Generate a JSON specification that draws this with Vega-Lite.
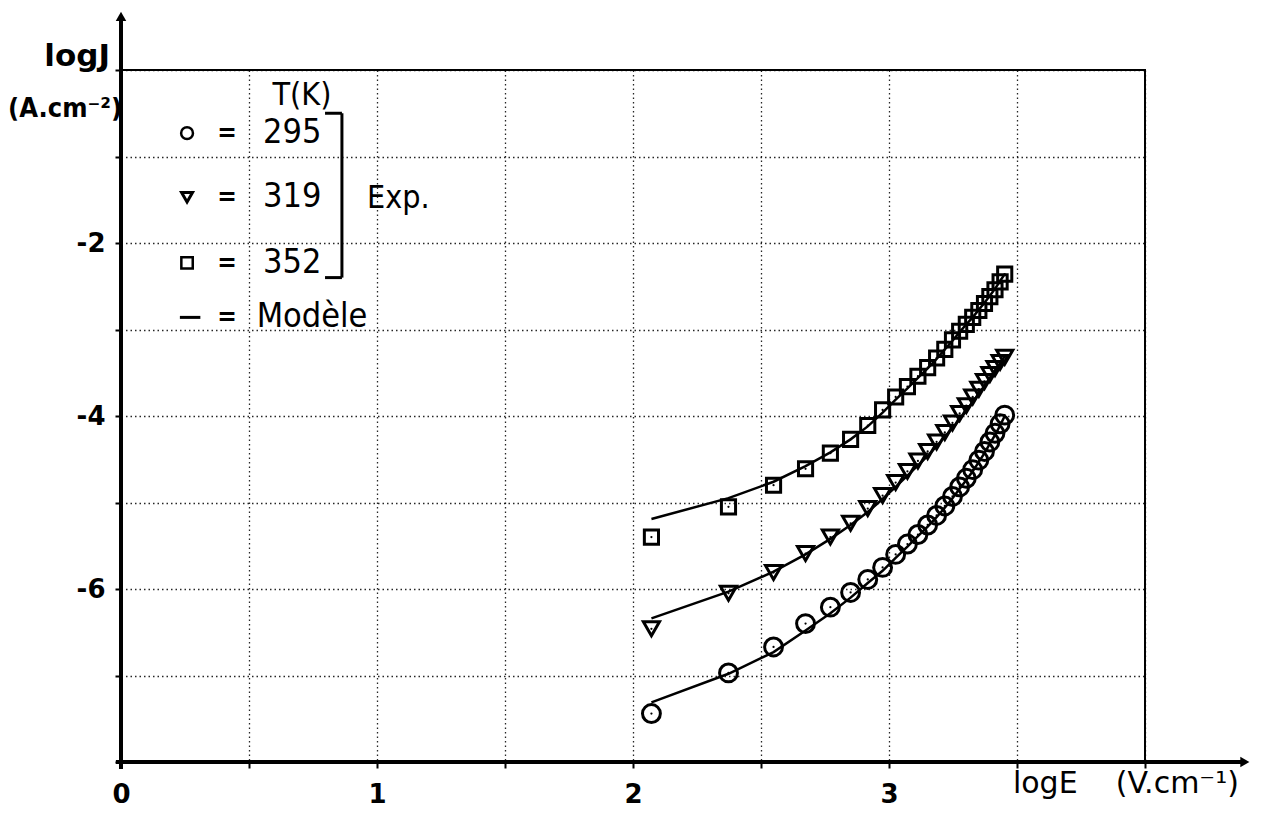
{
  "$schema": "https://vega.github.io/schema/vega-lite/v6.json",
  "width": 1024,
  "height": 692,
  "autosize": {"type": "none"},
  "padding": {"left": 121, "top": 70, "right": 116, "bottom": 53},
  "background": "white",
  "config": {"view": {"stroke": "black", "strokeWidth": 2}, "font": "DejaVu Sans"},
  "datasets": {
    "exp": [
      {"T": "295", "logE": 2.072, "logJ": -7.44}, {"T": "295", "logE": 2.373, "logJ": -6.97}, {"T": "295", "logE": 2.549, "logJ": -6.67}, {"T": "295", "logE": 2.674, "logJ": -6.40},
      {"T": "295", "logE": 2.771, "logJ": -6.21}, {"T": "295", "logE": 2.850, "logJ": -6.04}, {"T": "295", "logE": 2.917, "logJ": -5.89}, {"T": "295", "logE": 2.975, "logJ": -5.75},
      {"T": "295", "logE": 3.026, "logJ": -5.60}, {"T": "295", "logE": 3.072, "logJ": -5.48}, {"T": "295", "logE": 3.113, "logJ": -5.37}, {"T": "295", "logE": 3.151, "logJ": -5.26},
      {"T": "295", "logE": 3.186, "logJ": -5.15}, {"T": "295", "logE": 3.218, "logJ": -5.04}, {"T": "295", "logE": 3.248, "logJ": -4.93}, {"T": "295", "logE": 3.276, "logJ": -4.82},
      {"T": "295", "logE": 3.302, "logJ": -4.72}, {"T": "295", "logE": 3.327, "logJ": -4.62}, {"T": "295", "logE": 3.351, "logJ": -4.51}, {"T": "295", "logE": 3.373, "logJ": -4.41},
      {"T": "295", "logE": 3.394, "logJ": -4.30}, {"T": "295", "logE": 3.414, "logJ": -4.20}, {"T": "295", "logE": 3.434, "logJ": -4.09}, {"T": "295", "logE": 3.452, "logJ": -3.99},
      {"T": "319", "logE": 2.072, "logJ": -6.46}, {"T": "319", "logE": 2.373, "logJ": -6.05}, {"T": "319", "logE": 2.549, "logJ": -5.81}, {"T": "319", "logE": 2.674, "logJ": -5.59},
      {"T": "319", "logE": 2.771, "logJ": -5.40}, {"T": "319", "logE": 2.850, "logJ": -5.24}, {"T": "319", "logE": 2.917, "logJ": -5.07}, {"T": "319", "logE": 2.975, "logJ": -4.92},
      {"T": "319", "logE": 3.026, "logJ": -4.77}, {"T": "319", "logE": 3.072, "logJ": -4.64}, {"T": "319", "logE": 3.113, "logJ": -4.52}, {"T": "319", "logE": 3.151, "logJ": -4.41},
      {"T": "319", "logE": 3.186, "logJ": -4.30}, {"T": "319", "logE": 3.218, "logJ": -4.19}, {"T": "319", "logE": 3.248, "logJ": -4.08}, {"T": "319", "logE": 3.276, "logJ": -3.97},
      {"T": "319", "logE": 3.302, "logJ": -3.88}, {"T": "319", "logE": 3.327, "logJ": -3.78}, {"T": "319", "logE": 3.351, "logJ": -3.69}, {"T": "319", "logE": 3.373, "logJ": -3.60},
      {"T": "319", "logE": 3.394, "logJ": -3.52}, {"T": "319", "logE": 3.414, "logJ": -3.45}, {"T": "319", "logE": 3.434, "logJ": -3.38}, {"T": "319", "logE": 3.452, "logJ": -3.32},
      {"T": "352", "logE": 2.072, "logJ": -5.40}, {"T": "352", "logE": 2.373, "logJ": -5.05}, {"T": "352", "logE": 2.549, "logJ": -4.80}, {"T": "352", "logE": 2.674, "logJ": -4.61},
      {"T": "352", "logE": 2.771, "logJ": -4.43}, {"T": "352", "logE": 2.850, "logJ": -4.27}, {"T": "352", "logE": 2.917, "logJ": -4.11}, {"T": "352", "logE": 2.975, "logJ": -3.93},
      {"T": "352", "logE": 3.026, "logJ": -3.78}, {"T": "352", "logE": 3.072, "logJ": -3.66}, {"T": "352", "logE": 3.113, "logJ": -3.54}, {"T": "352", "logE": 3.151, "logJ": -3.44},
      {"T": "352", "logE": 3.186, "logJ": -3.33}, {"T": "352", "logE": 3.218, "logJ": -3.23}, {"T": "352", "logE": 3.248, "logJ": -3.12}, {"T": "352", "logE": 3.276, "logJ": -3.02},
      {"T": "352", "logE": 3.302, "logJ": -2.94}, {"T": "352", "logE": 3.327, "logJ": -2.86}, {"T": "352", "logE": 3.351, "logJ": -2.78}, {"T": "352", "logE": 3.373, "logJ": -2.70},
      {"T": "352", "logE": 3.394, "logJ": -2.62}, {"T": "352", "logE": 3.414, "logJ": -2.54}, {"T": "352", "logE": 3.434, "logJ": -2.45}, {"T": "352", "logE": 3.452, "logJ": -2.36}
    ],
    "model": [
      {"T": "295", "logE": 2.072, "logJ": -7.31}, {"T": "295", "logE": 2.373, "logJ": -6.98}, {"T": "295", "logE": 2.549, "logJ": -6.73}, {"T": "295", "logE": 2.674, "logJ": -6.48},
      {"T": "295", "logE": 2.771, "logJ": -6.28}, {"T": "295", "logE": 2.850, "logJ": -6.10}, {"T": "295", "logE": 2.917, "logJ": -5.93}, {"T": "295", "logE": 2.975, "logJ": -5.79},
      {"T": "295", "logE": 3.026, "logJ": -5.64}, {"T": "295", "logE": 3.072, "logJ": -5.51}, {"T": "295", "logE": 3.113, "logJ": -5.39}, {"T": "295", "logE": 3.151, "logJ": -5.28},
      {"T": "295", "logE": 3.186, "logJ": -5.17}, {"T": "295", "logE": 3.218, "logJ": -5.06}, {"T": "295", "logE": 3.248, "logJ": -4.95}, {"T": "295", "logE": 3.276, "logJ": -4.84},
      {"T": "295", "logE": 3.302, "logJ": -4.74}, {"T": "295", "logE": 3.327, "logJ": -4.64}, {"T": "295", "logE": 3.351, "logJ": -4.53}, {"T": "295", "logE": 3.373, "logJ": -4.43},
      {"T": "295", "logE": 3.394, "logJ": -4.32}, {"T": "295", "logE": 3.414, "logJ": -4.22}, {"T": "295", "logE": 3.434, "logJ": -4.11}, {"T": "295", "logE": 3.452, "logJ": -4.00},
      {"T": "319", "logE": 2.072, "logJ": -6.34}, {"T": "319", "logE": 2.373, "logJ": -6.03}, {"T": "319", "logE": 2.549, "logJ": -5.80}, {"T": "319", "logE": 2.674, "logJ": -5.60},
      {"T": "319", "logE": 2.771, "logJ": -5.42}, {"T": "319", "logE": 2.850, "logJ": -5.26}, {"T": "319", "logE": 2.917, "logJ": -5.11}, {"T": "319", "logE": 2.975, "logJ": -4.96},
      {"T": "319", "logE": 3.026, "logJ": -4.82}, {"T": "319", "logE": 3.072, "logJ": -4.69}, {"T": "319", "logE": 3.113, "logJ": -4.57}, {"T": "319", "logE": 3.151, "logJ": -4.46},
      {"T": "319", "logE": 3.186, "logJ": -4.35}, {"T": "319", "logE": 3.218, "logJ": -4.24}, {"T": "319", "logE": 3.248, "logJ": -4.14}, {"T": "319", "logE": 3.276, "logJ": -4.04},
      {"T": "319", "logE": 3.302, "logJ": -3.94}, {"T": "319", "logE": 3.327, "logJ": -3.84}, {"T": "319", "logE": 3.351, "logJ": -3.74}, {"T": "319", "logE": 3.373, "logJ": -3.65},
      {"T": "319", "logE": 3.394, "logJ": -3.56}, {"T": "319", "logE": 3.414, "logJ": -3.47}, {"T": "319", "logE": 3.434, "logJ": -3.39}, {"T": "319", "logE": 3.452, "logJ": -3.31},
      {"T": "352", "logE": 2.072, "logJ": -5.19}, {"T": "352", "logE": 2.373, "logJ": -4.95}, {"T": "352", "logE": 2.549, "logJ": -4.76}, {"T": "352", "logE": 2.674, "logJ": -4.58},
      {"T": "352", "logE": 2.771, "logJ": -4.42}, {"T": "352", "logE": 2.850, "logJ": -4.27}, {"T": "352", "logE": 2.917, "logJ": -4.12}, {"T": "352", "logE": 2.975, "logJ": -3.96},
      {"T": "352", "logE": 3.026, "logJ": -3.81}, {"T": "352", "logE": 3.072, "logJ": -3.68}, {"T": "352", "logE": 3.113, "logJ": -3.56}, {"T": "352", "logE": 3.151, "logJ": -3.45},
      {"T": "352", "logE": 3.186, "logJ": -3.34}, {"T": "352", "logE": 3.218, "logJ": -3.23}, {"T": "352", "logE": 3.248, "logJ": -3.13}, {"T": "352", "logE": 3.276, "logJ": -3.03},
      {"T": "352", "logE": 3.302, "logJ": -2.94}, {"T": "352", "logE": 3.327, "logJ": -2.86}, {"T": "352", "logE": 3.351, "logJ": -2.77}, {"T": "352", "logE": 3.373, "logJ": -2.69},
      {"T": "352", "logE": 3.394, "logJ": -2.61}, {"T": "352", "logE": 3.414, "logJ": -2.53}, {"T": "352", "logE": 3.434, "logJ": -2.44}, {"T": "352", "logE": 3.452, "logJ": -2.36}
    ]
  },
  "layer": [
    {
      "data": {"name": "model"},
      "mark": {"type": "line", "color": "black", "strokeWidth": 2.5},
      "encoding": {
        "x": {
          "field": "logE", "type": "quantitative",
          "scale": {"domain": [0, 4], "nice": false, "zero": false},
          "axis": {
            "values": [0, 0.5, 1, 1.5, 2, 2.5, 3, 3.5, 4],
            "labelExpr": "datum.value == 0 || datum.value == 1 || datum.value == 2 || datum.value == 3 ? '' + datum.value : ''",
            "grid": true, "gridColor": "black", "gridDash": [1.5, 3], "gridWidth": 1.3, "gridOpacity": 0.85,
            "domain": false, "ticks": true, "tickColor": "black", "tickSize": 6, "tickWidth": 2,
            "labelFont": "DejaVu Sans", "labelFontWeight": "bold", "labelFontSize": 26, "labelColor": "black",
            "labelPadding": 13, "labelFlush": false, "title": null
          }
        },
        "y": {
          "field": "logJ", "type": "quantitative",
          "scale": {"domain": [-8, 0], "nice": false, "zero": false},
          "axis": {
            "values": [-8, -7, -6, -5, -4, -3, -2, -1, 0],
            "labelExpr": "datum.value == -2 || datum.value == -4 || datum.value == -6 ? '-' + abs(datum.value) : ''",
            "grid": true, "gridColor": "black", "gridDash": [1.5, 3], "gridWidth": 1.3, "gridOpacity": 0.85,
            "domain": false, "ticks": true, "tickColor": "black", "tickSize": 6, "tickWidth": 2,
            "labelFont": "DejaVu Sans", "labelFontWeight": "bold", "labelFontSize": 26, "labelColor": "black",
            "labelPadding": 10, "labelFlush": false, "title": null
          }
        },
        "detail": {"field": "T"}
      }
    },
    {
      "data": {"name": "exp"},
      "mark": {"type": "point", "filled": false, "color": "black", "strokeWidth": 3, "opacity": 1},
      "encoding": {
        "x": {"field": "logE", "type": "quantitative"},
        "y": {"field": "logJ", "type": "quantitative"},
        "shape": {"field": "T", "type": "nominal", "scale": {"domain": ["295", "319", "352"], "range": ["circle", "triangle-down", "square"]}, "legend": null},
        "size": {"field": "T", "type": "nominal", "scale": {"domain": ["295", "319", "352"], "range": [320, 200, 300]}, "legend": null}
      }
    },
    {
      "data": {"name": "exp"},
      "mark": {"type": "point", "filled": true, "color": "black", "size": 5, "opacity": 1},
      "encoding": {
        "x": {"field": "logE", "type": "quantitative"},
        "y": {"field": "logJ", "type": "quantitative"}
      }
    },
    {
      "data": {"values": [{}]},
      "layer": [
        {
          "mark": {"type": "rule", "color": "black", "strokeWidth": 4},
          "encoding": {"x": {"datum": 0}, "y": {"datum": -8.08}, "y2": {"datum": 0.6}}
        },
        {
          "mark": {"type": "rule", "color": "black", "strokeWidth": 4},
          "encoding": {"x": {"datum": -0.02}, "x2": {"datum": 4.38}, "y": {"datum": -8}}
        },
        {
          "mark": {"type": "point", "shape": "triangle-up", "filled": true, "color": "black", "size": 110, "opacity": 1},
          "encoding": {"x": {"datum": 0}, "y": {"datum": 0.62}}
        },
        {
          "mark": {"type": "point", "shape": "triangle-right", "filled": true, "color": "black", "size": 110, "opacity": 1},
          "encoding": {"x": {"datum": 4.39}, "y": {"datum": -8}}
        },
        {
          "mark": {"type": "text", "text": "logJ", "font": "DejaVu Sans", "fontWeight": "bold", "fontSize": 31, "align": "right", "baseline": "alphabetic", "color": "black"},
          "encoding": {"x": {"datum": -0.043}, "y": {"datum": 0.05}}
        },
        {
          "mark": {"type": "text", "text": "(A.cm⁻²)", "font": "DejaVu Sans Condensed", "fontWeight": "bold", "fontSize": 27, "align": "right", "baseline": "alphabetic", "color": "black"},
          "encoding": {"x": {"datum": 0.004}, "y": {"datum": -0.54}}
        },
        {
          "mark": {"type": "text", "text": "logE\u00a0\u00a0\u00a0\u00a0(V.cm⁻¹)", "font": "DejaVu Sans", "fontSize": 30, "align": "left", "baseline": "alphabetic", "color": "black"},
          "encoding": {"x": {"datum": 3.484}, "y": {"datum": -8.36}}
        },
        {
          "mark": {"type": "text", "text": "T(K)", "font": "DejaVu Sans Condensed", "fontSize": 32, "align": "center", "baseline": "middle", "color": "black"},
          "encoding": {"x": {"datum": 0.707}, "y": {"datum": -0.29}}
        },
        {
          "mark": {"type": "point", "shape": "circle", "filled": false, "color": "black", "strokeWidth": 2.5, "size": 140, "opacity": 1},
          "encoding": {"x": {"datum": 0.258}, "y": {"datum": -0.73}}
        },
        {
          "mark": {"type": "point", "shape": "triangle-down", "filled": false, "color": "black", "strokeWidth": 3, "size": 120, "opacity": 1},
          "encoding": {"x": {"datum": 0.258}, "y": {"datum": -1.47}}
        },
        {
          "mark": {"type": "point", "shape": "square", "filled": false, "color": "black", "strokeWidth": 2.5, "size": 130, "opacity": 1},
          "encoding": {"x": {"datum": 0.258}, "y": {"datum": -2.23}}
        },
        {
          "mark": {"type": "rule", "color": "black", "strokeWidth": 3},
          "encoding": {"x": {"datum": 0.23}, "x2": {"datum": 0.31}, "y": {"datum": -2.86}}
        },
        {
          "mark": {"type": "text", "text": "=", "font": "DejaVu Sans Condensed", "fontSize": 26, "fontWeight": "bold", "align": "center", "baseline": "middle", "color": "black"},
          "encoding": {"x": {"datum": 0.414}, "y": {"datum": -0.73}}
        },
        {
          "mark": {"type": "text", "text": "=", "font": "DejaVu Sans Condensed", "fontSize": 26, "fontWeight": "bold", "align": "center", "baseline": "middle", "color": "black"},
          "encoding": {"x": {"datum": 0.414}, "y": {"datum": -1.47}}
        },
        {
          "mark": {"type": "text", "text": "=", "font": "DejaVu Sans Condensed", "fontSize": 26, "fontWeight": "bold", "align": "center", "baseline": "middle", "color": "black"},
          "encoding": {"x": {"datum": 0.414}, "y": {"datum": -2.23}}
        },
        {
          "mark": {"type": "text", "text": "=", "font": "DejaVu Sans Condensed", "fontSize": 26, "fontWeight": "bold", "align": "center", "baseline": "middle", "color": "black"},
          "encoding": {"x": {"datum": 0.414}, "y": {"datum": -2.86}}
        },
        {
          "mark": {"type": "text", "text": "295", "font": "DejaVu Sans Condensed", "fontSize": 34, "align": "left", "baseline": "middle", "color": "black"},
          "encoding": {"x": {"datum": 0.555}, "y": {"datum": -0.73}}
        },
        {
          "mark": {"type": "text", "text": "319", "font": "DejaVu Sans Condensed", "fontSize": 34, "align": "left", "baseline": "middle", "color": "black"},
          "encoding": {"x": {"datum": 0.555}, "y": {"datum": -1.47}}
        },
        {
          "mark": {"type": "text", "text": "352", "font": "DejaVu Sans Condensed", "fontSize": 34, "align": "left", "baseline": "middle", "color": "black"},
          "encoding": {"x": {"datum": 0.555}, "y": {"datum": -2.23}}
        },
        {
          "mark": {"type": "text", "text": "Modèle", "font": "DejaVu Sans Condensed", "fontSize": 34, "align": "left", "baseline": "middle", "color": "black"},
          "encoding": {"x": {"datum": 0.53}, "y": {"datum": -2.86}}
        },
        {
          "mark": {"type": "rule", "color": "black", "strokeWidth": 3},
          "encoding": {"x": {"datum": 0.863}, "y": {"datum": -0.5}, "y2": {"datum": -2.4}}
        },
        {
          "mark": {"type": "rule", "color": "black", "strokeWidth": 3},
          "encoding": {"x": {"datum": 0.797}, "x2": {"datum": 0.863}, "y": {"datum": -0.5}}
        },
        {
          "mark": {"type": "rule", "color": "black", "strokeWidth": 3},
          "encoding": {"x": {"datum": 0.797}, "x2": {"datum": 0.863}, "y": {"datum": -2.4}}
        },
        {
          "mark": {"type": "text", "text": "Exp.", "font": "DejaVu Sans Condensed", "fontSize": 32, "align": "left", "baseline": "middle", "color": "black"},
          "encoding": {"x": {"datum": 0.961}, "y": {"datum": -1.48}}
        }
      ]
    }
  ]
}
